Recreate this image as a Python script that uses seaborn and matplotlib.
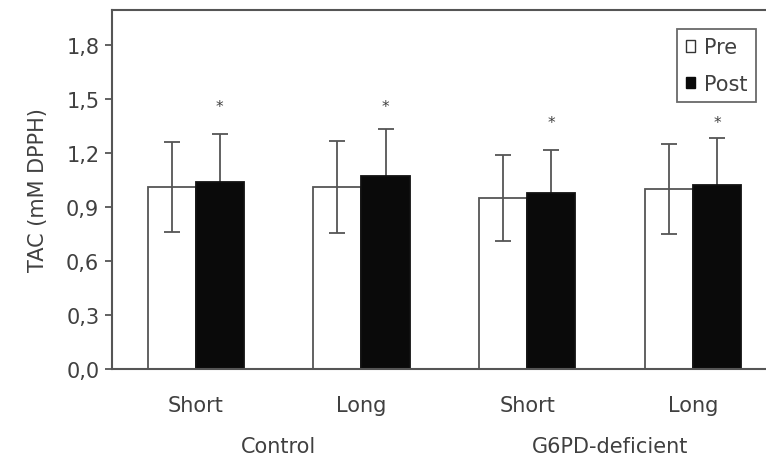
import numpy as np
import pandas as pd
import matplotlib
matplotlib.use("Agg")
import matplotlib.pyplot as plt
import seaborn as sns
from matplotlib.patches import Patch
from matplotlib.transforms import blended_transform_factory

groups = ["Control", "Control", "G6PD-deficient", "G6PD-deficient"]
durations = ["Short", "Long", "Short", "Long"]
pre_mean = [1.01, 1.01, 0.95, 1.00]
pre_sd = [0.25, 0.255, 0.24, 0.25]
post_mean = [1.04, 1.07, 0.98, 1.02]
post_sd = [0.265, 0.265, 0.235, 0.265]
star_y = [1.46, 1.46, 1.37, 1.37]
yticks = [0.0, 0.3, 0.6, 0.9, 1.2, 1.5, 1.8]
ytick_labels = ["0,0", "0,3", "0,6", "0,9", "1,2", "1,5", "1,8"]

sns.set_theme(style="white")
plt.rcParams['font.family'] = ['DejaVu Sans']
TXT = "#404040"
EDGE = "#555555"
FS = 15

cats = [f"{g}|{d}" for g, d in zip(groups, durations)]
df = pd.DataFrame({
    "cat": cats * 2,
    "phase": ["Pre"] * 4 + ["Post"] * 4,
    "value": pre_mean + post_mean,
})

fig = plt.figure(figsize=(7.66, 4.64), dpi=100)
ax = fig.add_axes([0.146, 0.2026, 0.854, 0.7737])

sns.barplot(data=df, x="cat", y="value", hue="phase", order=cats,
            hue_order=["Pre", "Post"], palette={"Pre": "white", "Post": "#0a0a0a"},
            width=0.58, errorbar=None, edgecolor=EDGE, linewidth=1.3,
            legend=False, ax=ax)

bars = ax.patches
pre_bars = bars[:4]
post_bars = bars[4:8]
for b in post_bars:
    b.set_edgecolor("#111111")
    b.set_zorder(1.5)
for b, m, s in zip(pre_bars, pre_mean, pre_sd):
    cx = b.get_x() + b.get_width() / 2
    ax.errorbar(cx, m, yerr=s, fmt="none", ecolor=EDGE, elinewidth=1.3,
                capsize=6, capthick=1.3, zorder=2)
for b, m, s, sy in zip(post_bars, post_mean, post_sd, star_y):
    cx = b.get_x() + b.get_width() / 2
    ax.errorbar(cx, m, yerr=s, fmt="none", ecolor=EDGE, elinewidth=1.3,
                capsize=6, capthick=1.3, zorder=1.2)
    ax.text(cx, sy, "*", ha="center", va="center", fontsize=11, color=TXT)

ax.set_ylim(0, 1.995)
ax.set_xlim(-0.506, 3.44)
ax.set_yticks(yticks)
ax.set_yticklabels(ytick_labels)
ax.set_xticks(range(4))
ax.set_xticklabels(durations)
ax.tick_params(axis="y", which="both", left=True, length=5, width=1.3,
               color=EDGE, labelsize=FS, labelcolor=TXT, pad=4)
ax.tick_params(axis="x", bottom=False, labelsize=FS, labelcolor=TXT, pad=13)
ax.set_xlabel("")
ax.set_ylabel("TAC (mM DPPH)", fontsize=FS, color=TXT, labelpad=13)

for sp in ["left", "bottom", "top"]:
    ax.spines[sp].set_color(EDGE)
    ax.spines[sp].set_linewidth(1.5)
ax.spines["right"].set_visible(False)

tr = blended_transform_factory(ax.transData, fig.transFigure)
group_names = ["Control", "G6PD-deficient"]
for i, g in enumerate(group_names):
    ax.text(2 * i + 0.5, 1 - 447 / 464, g, transform=tr, ha="center",
            va="center", fontsize=FS, color=TXT)

handles = [Patch(facecolor="white", edgecolor="#333333", linewidth=1.0, label="Pre"),
           Patch(facecolor="#0a0a0a", edgecolor="#0a0a0a", label="Post")]
leg = ax.legend(handles=handles, loc="upper right", bbox_to_anchor=(0.985, 0.947),
                fontsize=FS, frameon=True, fancybox=False, handlelength=0.45,
                handleheight=0.45, handletextpad=0.45, borderpad=0.4,
                labelspacing=0.8, borderaxespad=0)
leg.get_frame().set_edgecolor("#444444")
leg.get_frame().set_linewidth(1.3)
for t in leg.get_texts():
    t.set_color(TXT)

fig.savefig("out.png", dpi=100)
